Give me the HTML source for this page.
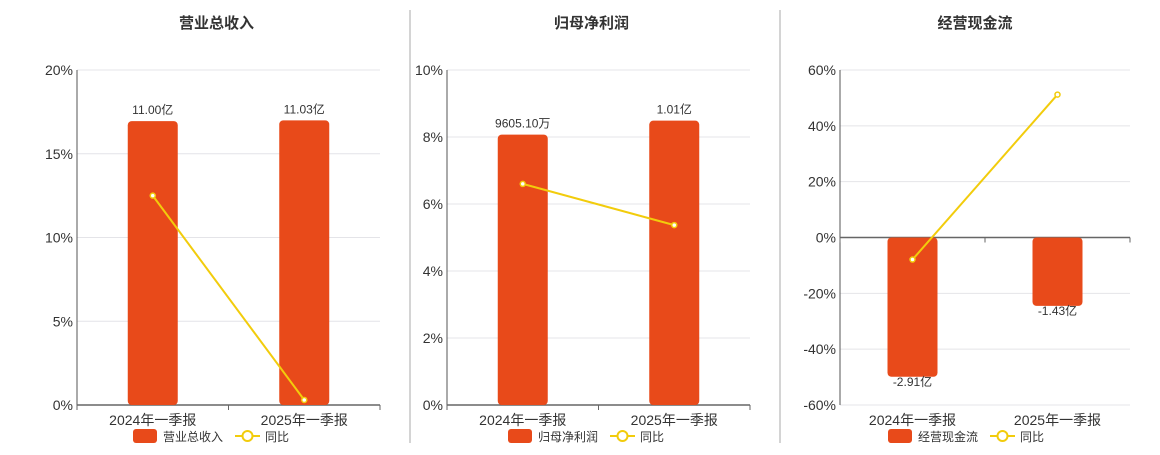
<!DOCTYPE html>
<html><head><meta charset="utf-8"><style>
body{margin:0;background:#fff;width:1160px;height:450px;overflow:hidden;font-family:"Liberation Sans","Noto Sans CJK SC",sans-serif;}
svg text{font-family:"Liberation Sans","Noto Sans CJK SC",sans-serif;}
</style></head><body>
<svg id="c" width="1160" height="450"></svg>
<script>
const categories=["2024年一季报","2025年一季报"];
const titles=["营业总收入","归母净利润","经营现金流"];
const barValues1=[11.00,11.03];
const barLabels1=["11.00亿","11.03亿"];
const yoy1=[12.5,0.3];
const barValues2=[0.9605,1.01];
const barLabels2=["9605.10万","1.01亿"];
const yoy2=[6.6,5.37];
const barValues3=[-2.91,-1.43];
const barLabels3=["-2.91亿","-1.43亿"];
const yoy3=[-7.9,51.2];
const ticks1=[0,5,10,15,20];
const ticks2=[0,2,4,6,8,10];
const ticks3=[-60,-40,-20,0,20,40,60];

const NS="http://www.w3.org/2000/svg";
const svgEl=document.getElementById('c');
function mk(t,a,p){const e=document.createElementNS(NS,t);for(const k in a)e.setAttribute(k,a[k]);(p||svgEl).appendChild(e);return e;}
const panels=[
 {x0:77,x1:380,cx:205,bars:barValues1,labels:barLabels1,yoy:yoy1,ticks:ticks1,ymin:0,ymax:20,bmin:0,bmax:12.98},
 {x0:447,x1:750,cx:580,bars:barValues2,labels:barLabels2,yoy:yoy2,ticks:ticks2,ymin:0,ymax:10,bmin:0,bmax:1.19},
 {x0:840,x1:1130,cx:960,bars:barValues3,labels:barLabels3,yoy:yoy3,ticks:ticks3,ymin:-60,ymax:60,bmin:-3.5,bmax:3.5}
];
const Y_TOP=70,Y_BOT=405;
[410,780].forEach(x=>{const l=mk('line',{x1:x,x2:x,y1:10,y2:443,stroke:'#aaa'});

});
panels.forEach((p,pi)=>{
 const g=mk('g',{});
 
 
 const y=v=>Y_BOT-(v-p.ymin)/(p.ymax-p.ymin)*(Y_BOT-Y_TOP);
 const yb=v=>Y_BOT-(v-p.bmin)/(p.bmax-p.bmin)*(Y_BOT-Y_TOP);
 const t=mk('text',{x:(p.x0+p.x1)/2+(pi==0?-12:pi==1?-7:-10),y:28,'text-anchor':'middle','font-size':15,'font-weight':'bold',fill:'#333'},g);
 t.textContent=titles[pi];
 
 
 p.ticks.forEach(v=>{
  const yy=y(v);
  const gl=mk('line',{x1:p.x0,x2:p.x1,y1:yy,y2:yy,stroke:'#e4e4e8'},g);
  
  
  const tl=mk('text',{x:p.x0-4,y:yy+5,'text-anchor':'end','font-size':14,fill:'#333'},g);
  tl.textContent=v+'%';
  
  
 });
 mk('line',{x1:p.x0,x2:p.x0,y1:Y_TOP,y2:Y_BOT,stroke:'#555'},g);
 const zy=p.ymin<0?y(0):Y_BOT;
 const ax=mk('line',{x1:p.x0,x2:p.x1,y1:zy,y2:zy,stroke:'#666','stroke-width':1.5},g);
 
 
 const bw=(p.x1-p.x0)/categories.length;
 [0,1,2].forEach(i=>mk('line',{x1:p.x0+i*bw,x2:p.x0+i*bw,y1:zy,y2:zy+5,stroke:'#666'},g));
 const pts=[];
 categories.forEach((c,i)=>{
  const cx=p.x0+bw*(i+0.5);
  const v=p.bars[i];const y0=yb(0),y1=yb(v);
  const r=mk('rect',{x:cx-25,y:Math.min(y0,y1),width:50,height:Math.abs(y1-y0),rx:4,fill:'#e84a1a'},g);
  
  
  const bl=mk('text',{x:cx,y:v>=0?y1-7:y1+9,'text-anchor':'middle','font-size':12,fill:'#333'},g);
  bl.textContent=p.labels[i];
  
  
  const xl=mk('text',{x:cx,y:425,'text-anchor':'middle','font-size':14,fill:'#333'},g);
  xl.textContent=c;
  
  
  pts.push([cx,y(p.yoy[i])]);
 });
 const pl=mk('polyline',{points:pts.map(q=>q.join(',')).join(' '),fill:'none',stroke:'#f2cc0c','stroke-width':2},g);
 
 
 pts.forEach(q=>{const c=mk('circle',{cx:q[0],cy:q[1],r:2.5,fill:'#fff',stroke:'#f2cc0c','stroke-width':1.5},g);
  
  });
 const lx=p.cx-72;
 const lg=mk('g',{},g);
 
 
 mk('rect',{x:lx,y:429,width:24,height:14,rx:3,fill:'#e84a1a'},lg);
 const l1=mk('text',{x:lx+30,y:441,'font-size':12,fill:'#333'},lg);l1.textContent=titles[pi];
 const l2x=lx+30+titles[pi].length*12+12;
 mk('line',{x1:l2x,x2:l2x+25,y1:436,y2:436,stroke:'#f2cc0c','stroke-width':2},lg);
 mk('circle',{cx:l2x+12.5,cy:436,r:5,fill:'#fff',stroke:'#f2cc0c','stroke-width':2},lg);
 const l3=mk('text',{x:l2x+30,y:441,'font-size':12,fill:'#333'},lg);l3.textContent='同比';
});
</script>
</body></html>
